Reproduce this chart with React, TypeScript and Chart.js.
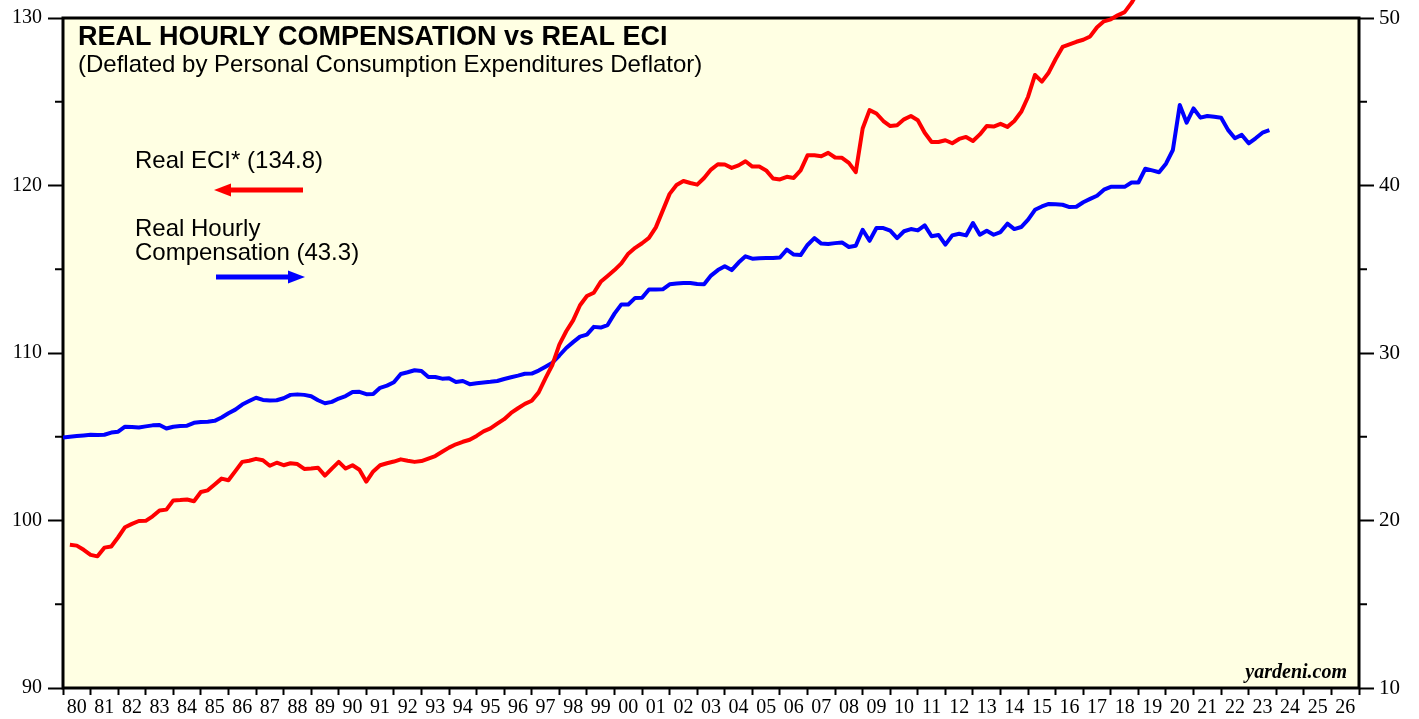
import React, { useEffect, useRef } from "react";
import { Chart, registerables } from "chart.js";

Chart.register(...registerables);

// Quarterly observations starting 1980 Q1
const START_YEAR = 1980;

// Real ECI* (left axis)
const realEci: (number | null)[] = [
  null, 98.55, 98.5, 98.25, 97.95, 97.86, 98.38, 98.45, 99.0, 99.6,
  99.8, 99.97, 99.98, 100.25, 100.6, 100.65, 101.2, 101.22, 101.25, 101.15,
  101.7, 101.8, 102.15, 102.5, 102.4, 102.95, 103.5, 103.57, 103.68, 103.6,
  103.27, 103.45, 103.3, 103.42, 103.37, 103.08, 103.1, 103.15, 102.68, 103.1,
  103.5, 103.1, 103.3, 103.03, 102.32, 102.93, 103.3, 103.42, 103.52, 103.65,
  103.57, 103.5, 103.55, 103.7, 103.85, 104.1, 104.35, 104.55, 104.7, 104.82,
  105.05, 105.32, 105.5, 105.78, 106.05, 106.42, 106.7, 106.96, 107.15, 107.65,
  108.5, 109.3, 110.5, 111.3, 111.95, 112.85, 113.4, 113.6, 114.25, 114.6,
  114.95, 115.35, 115.93, 116.28, 116.55, 116.87, 117.5, 118.5, 119.5, 120.03,
  120.27, 120.15, 120.05, 120.45, 120.95, 121.27, 121.25, 121.05, 121.2, 121.45,
  121.13, 121.13, 120.9, 120.42, 120.36, 120.52, 120.45, 120.9, 121.8, 121.8,
  121.75, 121.95, 121.67, 121.65, 121.35, 120.8, 123.4, 124.5, 124.3, 123.85,
  123.55, 123.6, 123.95, 124.15, 123.9, 123.15, 122.6, 122.6, 122.7, 122.52,
  122.78, 122.9, 122.66, 123.05, 123.55, 123.52, 123.68, 123.5, 123.85, 124.4,
  125.3, 126.6, 126.2, 126.75, 127.55, 128.27, 128.42, 128.58, 128.7, 128.9,
  129.45, 129.8, 129.92, 130.16, 130.35, 130.9, 131.6, 132.0, 132.3, 132.6,
  133.0, 134.8, 134.6, 134.5, 134.2, 133.6, 133.0, 132.5, 132.0, 131.5,
  131.6, 132.0, 132.9, 133.8, 134.4, 134.8,
];

// Real Hourly Compensation (right axis)
const realHourlyComp: number[] = [
  24.95, 25.0, 25.04, 25.08, 25.12, 25.1, 25.12, 25.25, 25.3, 25.6,
  25.58, 25.55, 25.62, 25.68, 25.7, 25.49, 25.6, 25.64, 25.66, 25.83,
  25.88, 25.9, 25.95, 26.15, 26.4, 26.62, 26.92, 27.13, 27.33, 27.2,
  27.16, 27.18, 27.3, 27.5, 27.53, 27.5, 27.42, 27.18, 27.0, 27.08,
  27.28, 27.43, 27.67, 27.68, 27.54, 27.55, 27.92, 28.05, 28.25, 28.75,
  28.85, 28.97, 28.92, 28.57, 28.57, 28.47, 28.49, 28.27, 28.33, 28.14,
  28.2, 28.24, 28.28, 28.33, 28.45, 28.55, 28.65, 28.76, 28.77, 28.95,
  29.18, 29.42, 29.85, 30.3, 30.65, 30.98, 31.1, 31.56, 31.52, 31.67,
  32.35, 32.9, 32.9, 33.29, 33.3, 33.79, 33.79, 33.8, 34.1, 34.15,
  34.18, 34.18, 34.12, 34.1, 34.62, 34.95, 35.18, 34.95, 35.4, 35.77,
  35.63, 35.66, 35.67, 35.67, 35.7, 36.17, 35.88, 35.85, 36.45, 36.86,
  36.53, 36.51, 36.56, 36.6, 36.33, 36.4, 37.36, 36.7, 37.46, 37.46,
  37.3, 36.86, 37.27, 37.4, 37.32, 37.62, 36.97, 37.05, 36.47, 37.02,
  37.12, 37.02, 37.76, 37.06, 37.3, 37.06, 37.22, 37.72, 37.4, 37.52,
  37.96, 38.55, 38.75, 38.9, 38.88, 38.85, 38.71, 38.73, 39.0, 39.2,
  39.39, 39.75, 39.92, 39.92, 39.92, 40.18, 40.18, 41.0, 40.9, 40.79,
  41.3, 42.12, 44.8, 43.75, 44.6, 44.05, 44.15, 44.1, 44.05, 43.32,
  42.82, 43.02, 42.52, 42.82, 43.15, 43.3,
];

const xTickYears: number[] = [
  1980, 1981, 1982, 1983, 1984, 1985, 1986, 1987, 1988, 1989, 1990, 1991,
  1992, 1993, 1994, 1995, 1996, 1997, 1998, 1999, 2000, 2001, 2002, 2003,
  2004, 2005, 2006, 2007, 2008, 2009, 2010, 2011, 2012, 2013, 2014, 2015,
  2016, 2017, 2018, 2019, 2020, 2021, 2022, 2023, 2024, 2025, 2026, 2027,
];
const xTickLabels: string[] = [
  "80", "81", "82", "83", "84", "85", "86", "87", "88", "89", "90", "91",
  "92", "93", "94", "95", "96", "97", "98", "99", "00", "01", "02", "03",
  "04", "05", "06", "07", "08", "09", "10", "11", "12", "13", "14", "15",
  "16", "17", "18", "19", "20", "21", "22", "23", "24", "25", "26", "",
];
const leftTicks: number[] = [90, 100, 110, 120, 130];
const leftMinorTicks: number[] = [95, 105, 115, 125];
const rightTicks: number[] = [10, 20, 30, 40, 50];
const rightMinorTicks: number[] = [15, 25, 35, 45];

const TITLE = "REAL HOURLY COMPENSATION vs REAL ECI";
const SUBTITLE = "(Deflated by Personal Consumption Expenditures Deflator)";
const ECI_LABEL = "Real ECI* (134.8)";
const COMP_LABEL_1 = "Real Hourly";
const COMP_LABEL_2 = "Compensation (43.3)";
const SOURCE = "yardeni.com";

const RED = "#FF0000";
const BLUE = "#0000FF";
const PLOT_BG = "#FFFFE3";
const SANS = "'Liberation Sans', Arial, sans-serif";
const SERIF = "'Liberation Serif', 'Times New Roman', serif";

const toPoints = (arr: (number | null)[]) =>
  arr.map((v, i) => ({ x: START_YEAR + i / 4, y: v }));

function drawArrow(ctx: CanvasRenderingContext2D, x0: number, x1: number, y: number, color: string) {
  const dir = Math.sign(x1 - x0);
  const headLen = 17;
  const headHalf = 6.5;
  ctx.save();
  ctx.strokeStyle = color;
  ctx.fillStyle = color;
  ctx.lineWidth = 5;
  ctx.beginPath();
  ctx.moveTo(x0, y);
  ctx.lineTo(x1 - dir * headLen + dir * 2, y);
  ctx.stroke();
  ctx.beginPath();
  ctx.moveTo(x1, y);
  ctx.lineTo(x1 - dir * headLen, y - headHalf);
  ctx.lineTo(x1 - dir * headLen, y + headHalf);
  ctx.closePath();
  ctx.fill();
  ctx.restore();
}

const decorPlugin = {
  id: "decor",
  beforeDraw(chart: any) {
    const { ctx, chartArea: a, width, height } = chart;
    ctx.save();
    ctx.fillStyle = "#FFFFFF";
    ctx.fillRect(0, 0, width, height);
    ctx.fillStyle = PLOT_BG;
    ctx.fillRect(a.left, a.top, a.right - a.left, a.bottom - a.top);
    ctx.restore();
  },
  beforeDatasetsDraw(chart: any) {
    const { ctx, chartArea: a, scales } = chart;
    ctx.save();
    ctx.strokeStyle = "#000";
    ctx.lineWidth = 2;
    leftMinorTicks.forEach((v) => {
      const y = scales.y.getPixelForValue(v);
      ctx.beginPath();
      ctx.moveTo(a.left - 8, y);
      ctx.lineTo(a.left, y);
      ctx.stroke();
    });
    rightMinorTicks.forEach((v) => {
      const y = scales.y2.getPixelForValue(v);
      ctx.beginPath();
      ctx.moveTo(a.right, y);
      ctx.lineTo(a.right + 8, y);
      ctx.stroke();
    });
    ctx.lineWidth = 3;
    ctx.strokeRect(a.left, a.top, a.right - a.left, a.bottom - a.top);
    ctx.restore();
  },
  afterDraw(chart: any) {
    const { ctx, chartArea: a } = chart;
    ctx.save();
    ctx.fillStyle = "#000";
    ctx.textAlign = "left";
    ctx.textBaseline = "alphabetic";
    ctx.font = `bold 27px ${SANS}`;
    ctx.fillText(TITLE, a.left + 15, 45);
    ctx.font = `24px ${SANS}`;
    ctx.fillText(SUBTITLE, a.left + 15, 72);
    ctx.fillText(ECI_LABEL, 135, 168);
    ctx.fillText(COMP_LABEL_1, 135, 236);
    ctx.fillText(COMP_LABEL_2, 135, 260);
    drawArrow(ctx, 303, 214, 190, RED);
    drawArrow(ctx, 216, 305, 277, BLUE);
    ctx.font = `italic bold 20px ${SERIF}`;
    ctx.textAlign = "right";
    ctx.fillText(SOURCE, a.right - 12, a.bottom - 10);
    ctx.restore();
  },
};

export default function App() {
  const canvasRef = useRef<HTMLCanvasElement | null>(null);

  useEffect(() => {
    const canvas = canvasRef.current;
    if (!canvas) return;
    const chart = new Chart(canvas, {
      type: "line",
      data: {
        datasets: [
          {
            label: "Real ECI*",
            data: toPoints(realEci),
            yAxisID: "y",
            borderColor: RED,
            borderWidth: 4,
            pointRadius: 0,
            tension: 0,
            clip: false as any,
            borderJoinStyle: "round",
          },
          {
            label: "Real Hourly Compensation",
            data: toPoints(realHourlyComp),
            yAxisID: "y2",
            borderColor: BLUE,
            borderWidth: 4,
            pointRadius: 0,
            tension: 0,
            borderJoinStyle: "round",
          },
        ],
      },
      options: {
        animation: false,
        responsive: false,
        maintainAspectRatio: false,
        devicePixelRatio: 1,
        parsing: false as any,
        normalized: true,
        layout: { padding: { top: 16, left: 0, right: 0, bottom: 0 } },
        plugins: {
          legend: { display: false },
          tooltip: { enabled: false },
        },
        scales: {
          x: {
            type: "linear",
            position: "bottom",
            min: xTickYears[0],
            max: xTickYears[xTickYears.length - 1],
            afterBuildTicks: (axis: any) => {
              axis.ticks = xTickYears.map((v) => ({ value: v }));
            },
            afterFit: (s: any) => {
              s.height = 31;
            },
            grid: {
              drawOnChartArea: false,
              drawTicks: true,
              tickLength: 7,
              tickWidth: 2,
              tickColor: "#000",
            },
            border: { display: false },
            ticks: {
              autoSkip: false,
              maxRotation: 0,
              minRotation: 0,
              padding: 1,
              labelOffset: 13.8,
              color: "#000",
              font: { family: SERIF, size: 20 },
              callback: (v: any) => {
                const idx = xTickYears.indexOf(Number(v));
                return idx >= 0 ? xTickLabels[idx] : "";
              },
            },
          },
          y: {
            type: "linear",
            position: "left",
            min: leftTicks[0],
            max: leftTicks[leftTicks.length - 1],
            afterBuildTicks: (axis: any) => {
              axis.ticks = leftTicks.map((v) => ({ value: v }));
            },
            afterFit: (s: any) => {
              s.width = 63;
            },
            grid: {
              drawOnChartArea: false,
              tickLength: 15,
              tickWidth: 2,
              tickColor: "#000",
            },
            border: { display: false },
            ticks: {
              padding: 6,
              color: "#000",
              font: { family: SERIF, size: 20 },
            },
          },
          y2: {
            type: "linear",
            position: "right",
            min: rightTicks[0],
            max: rightTicks[rightTicks.length - 1],
            afterBuildTicks: (axis: any) => {
              axis.ticks = rightTicks.map((v) => ({ value: v }));
            },
            afterFit: (s: any) => {
              s.width = 60;
            },
            grid: {
              drawOnChartArea: false,
              tickLength: 15,
              tickWidth: 2,
              tickColor: "#000",
            },
            border: { display: false },
            ticks: {
              padding: 5,
              color: "#000",
              font: { family: SERIF, size: 21 },
            },
          },
        },
      } as any,
      plugins: [decorPlugin],
    });
    return () => chart.destroy();
  }, []);

  return (
    <div style={{ position: "absolute", left: 0, top: 0, width: 1419, height: 719, background: "#fff" }}>
      <canvas ref={canvasRef} width={1419} height={719} style={{ display: "block", width: 1419, height: 719 }} />
    </div>
  );
}
